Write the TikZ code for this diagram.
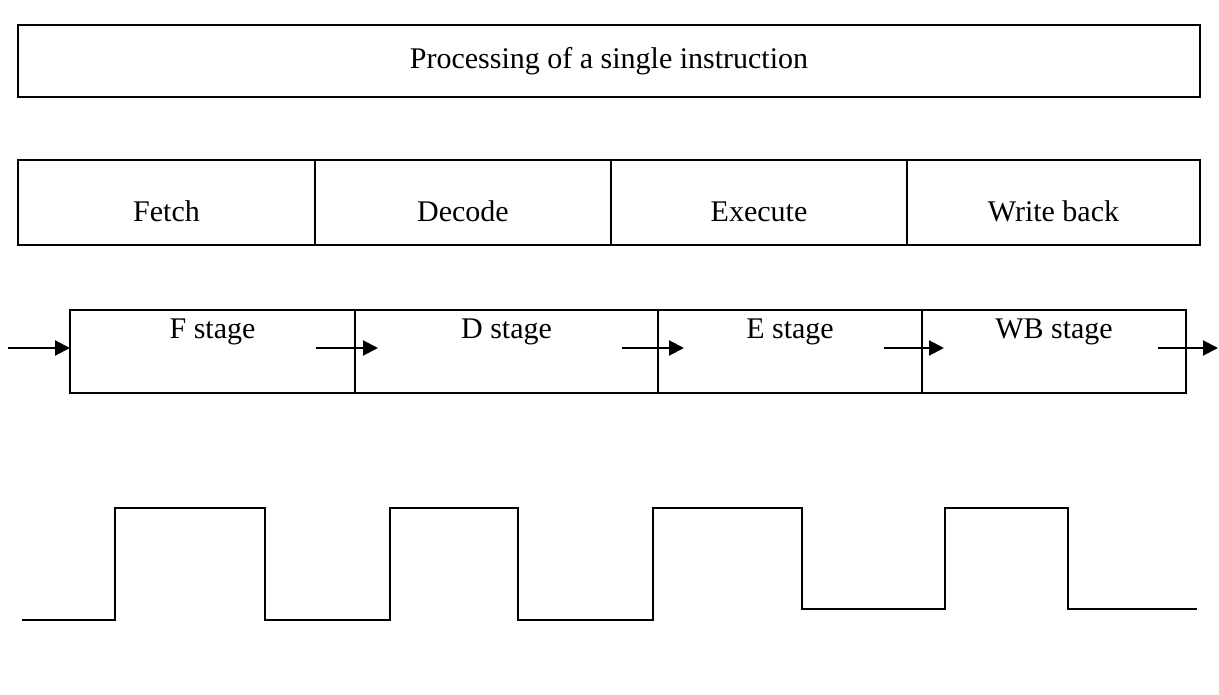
\documentclass[tikz,border=0pt]{standalone}
\usepackage{fontspec}
\setmainfont{Liberation Serif}
\usetikzlibrary{positioning, arrows.meta}

\begin{document}
\begin{tikzpicture}[x=1pt, y=-1pt,
		box/.style={draw, line width=2pt, outer sep=0pt, minimum height=85pt, inner sep=0pt, text height=38pt, text depth=0pt},
		stagebox/.style={draw, line width=2pt, outer sep=0pt, minimum height=83pt, inner sep=0pt},
		stagename/.style={anchor=north, inner sep=9pt},
		arr/.style={-{Triangle[length=15pt, width=15pt]}, line width=2pt},
		clk/.style={line width=2pt}]
	\useasboundingbox (0,0) rectangle (1219,695);
	\fontsize{30}{36}\selectfont

	% Draw the single instruction
	\node[draw, line width=2pt, outer sep=0pt, minimum width=1182pt, minimum height=72pt, anchor=north west] (instr) at (18,25) {Processing of a single instruction};

	% Draw the four steps
	\node[box, minimum width=297pt, anchor=north west] (fetch) at (18,160) {Fetch};
	\node[box, minimum width=296pt, right=0pt of fetch] (decode) {Decode};
	\node[box, minimum width=296pt, right=0pt of decode] (execute) {Execute};
	\node[box, minimum width=293pt, right=0pt of execute] (wback) {Write back};

	% Draw the pipeline stages
	\node[stagebox, minimum width=285pt, anchor=north west,
		label={[stagename]north:F stage}] (fst) at (70,310) {};
	\node[stagebox, minimum width=303pt, right=0pt of fst,
		label={[stagename]north:D stage}] (dst) {};
	\node[stagebox, minimum width=264pt, right=0pt of dst,
		label={[stagename]north:E stage}] (est) {};
	\node[stagebox, minimum width=264pt, right=0pt of est,
		label={[stagename]north:WB stage}] (wbst) {};

	% Draw the latches between the stages
	\coordinate (in) at (8,348);
	\coordinate (fd1) at (316,348);
	\coordinate (fd2) at (378,348);
	\coordinate (de1) at (622,348);
	\coordinate (de2) at (684,348);
	\coordinate (ew1) at (884,348);
	\coordinate (ew2) at (944,348);
	\coordinate (out1) at (1158,348);
	\coordinate (out2) at (1218,348);
	\draw[arr] (in) -- (in -| fst.west);
	\draw[arr] (fd1) -- (fd2);
	\draw[arr] (de1) -- (de2);
	\draw[arr] (ew1) -- (ew2);
	\draw[arr] (out1) -- (out2);

	% Draw the clock
	\draw[clk] (22,620) -- (115,620) -- (115,508) -- (265,508) -- (265,620)
		-- (390,620) -- (390,508) -- (518,508) -- (518,620)
		-- (653,620) -- (653,508) -- (802,508) -- (802,609)
		-- (945,609) -- (945,508) -- (1068,508) -- (1068,609) -- (1197,609);
\end{tikzpicture}
\end{document}
